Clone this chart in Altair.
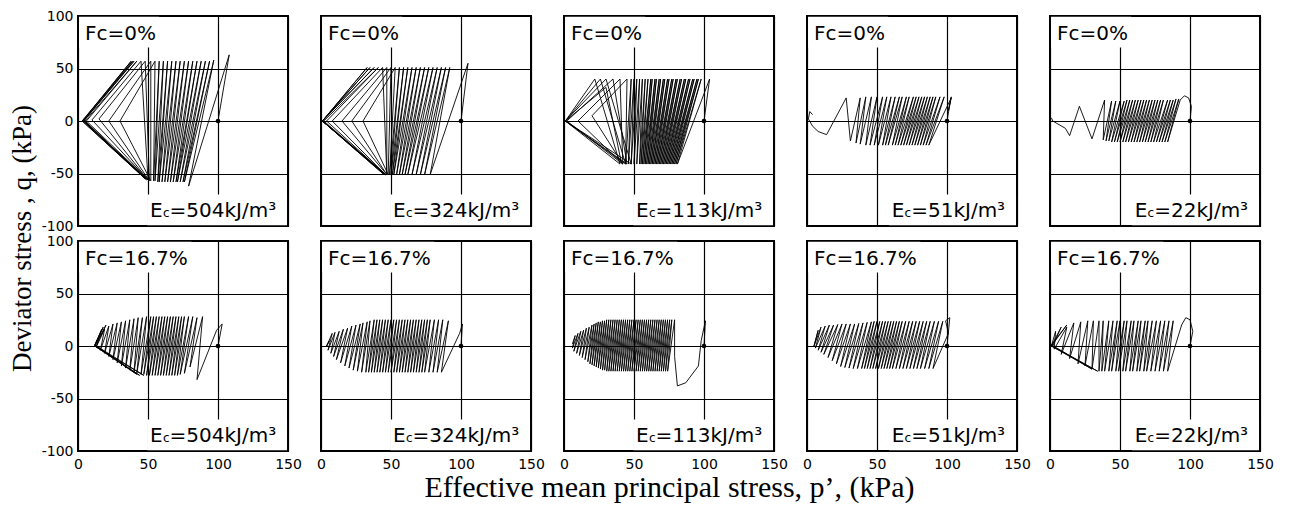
import altair as alt
import pandas as pd

# ---------------- data ----------------
FC_LABELS = ["Fc=0%", "Fc=16.7%"]
EC_VALUES = ["504", "324", "113", "51", "22"]
X_TICKS = [0, 50, 100, 150]
Y_TICKS = [-100, -50, 0, 50, 100]
X_TITLE = "Effective mean principal stress, p\u2019, (kPa)"
Y_TITLE = "Deviator stress , q, (kPa)"

# stress-path vertices [p', q] (turning points)
T1 = [[100,0],[108,63],[79,-62],[97,58],[76,-58],[94,57],[75,-58],[91,57],[73,-58],[88,57],[71,-58],[85,57],[70,-58],[82,57],[68,-58],[79,57],[66,-58],[76,57],[64,-58],[73,57],[62,-58],[70,57],[60,-58],[67,57],[58,-58],[64,57],[57,-58],[61,57],[55,-57],[58,57],[54,-57],[55,57],[30,0],[52,-57],[52,57],[22,0],[51,-57],[48,57],[15,2],[50,-56],[45,57],[10,1],[50,-56],[6,0],[42,57],[5,0],[49,-56],[4,0],[40,57],[4,0],[49,-55],[4,0],[39,57],[3,0],[48,-55],[3,0],[38,57],[4,1],[48,-55]]
T2 = [[100,0],[105,55],[78,-51],[92,51],[74,-51],[89,51],[71,-51],[86,51],[68,-51],[83,51],[65,-51],[80,51],[62,-51],[77,51],[60,-51],[74,51],[58,-51],[71,51],[56,-51],[68,51],[54,-51],[65,51],[52,-51],[62,51],[51,-51],[59,51],[50,-51],[56,51],[49,-51],[53,51],[30,0],[48,-51],[50,51],[22,0],[47,-51],[47,51],[15,0],[47,-51],[44,51],[8,0],[46,-51],[4,0],[41,51],[2,0],[46,-51],[1,0],[38,51],[1,0],[46,-51],[1,0],[35,51],[1,0],[45,-51],[1,0],[33,51],[1,0],[46,-51]]
T3 = [[100,0],[104,40],[81,-41],[98,40],[80,-41],[96,40],[79,-41],[95,40],[78,-41],[93,40],[77,-41],[92,40],[76,-41],[90,40],[75,-41],[89,40],[74,-41],[87,40],[73,-41],[86,40],[72,-41],[84,40],[71,-41],[83,40],[70,-41],[81,40],[69,-41],[80,40],[68,-41],[78,40],[67,-41],[77,40],[66,-41],[75,40],[65,-41],[74,40],[64,-41],[72,40],[63,-41],[71,40],[62,-41],[69,40],[61,-41],[68,40],[60,-41],[66,40],[59,-41],[65,40],[58,-41],[63,40],[57,-41],[62,40],[56,-41],[60,40],[55,-41],[58,40],[54,-41],[56,40],[52,-41],[54,40],[50,-41],[52,40],[48,-41],[50,40],[46,-41],[48,40],[44,-41],[45,40],[20,5],[42,-41],[40,40],[10,0],[42,-41],[2,0],[35,40],[45,-41],[1,0],[30,40],[48,-41],[1,0],[26,40],[44,-41],[1,0],[22,40],[40,-41],[1,0],[30,32],[41,-40]]
T4 = [[100,0],[103,23],[101,10],[103,22],[87,-23],[98,23],[85,-23],[95,23],[83,-23],[92,23],[81,-23],[90,23],[79,-23],[88,23],[77,-23],[86,23],[75,-23],[84,23],[73,-23],[82,23],[71,-23],[80,23],[69,-23],[78,23],[67,-23],[76,23],[65,-23],[73,23],[63,-23],[71,23],[61,-23],[68,23],[58,-23],[66,23],[56,-23],[63,23],[54,-23],[60,23],[51,-23],[57,23],[48,-23],[54,23],[45,-23],[50,23],[42,-23],[46,23],[38,-22],[42,23],[35,-21],[38,22],[31,-19],[28,22],[14,-13],[8,-10],[4,-5],[1,2],[2,9],[4,6]]
T5 = [[100,0],[101,14],[99,22],[96,24],[93,20],[84,-20],[92,21],[82,-20],[90,21],[80,-20],[88,20],[78,-20],[86,20],[76,-20],[84,20],[74,-20],[81,20],[72,-20],[79,20],[70,-20],[77,20],[68,-20],[75,20],[66,-20],[73,20],[64,-20],[71,20],[62,-20],[69,20],[60,-20],[67,20],[58,-20],[65,20],[56,-20],[63,20],[54,-20],[61,20],[52,-20],[59,20],[50,-20],[57,20],[48,-20],[55,20],[46,-20],[53,19],[44,-20],[50,19],[42,-19],[47,19],[40,-19],[44,19],[38,-18],[39,20],[30,-17],[21,14],[14,-14],[11,-7],[2,0],[1,3]]

B1 = [[100,0],[103,21],[99,15],[85,-32],[89,28],[80,-20],[85,27],[76,-26],[82,28],[73,-27],[79,28],[71,-28],[76,28],[69,-28],[74,28],[67,-28],[72,28],[65,-28],[70,28],[63,-28],[68,28],[61,-28],[66,28],[59,-28],[64,28],[57,-28],[62,28],[55,-28],[60,28],[53,-28],[58,28],[51,-28],[56,28],[49,-28],[54,28],[47,-27],[52,28],[45,-27],[49,28],[42,-26],[46,27],[40,-25],[43,27],[37,-23],[40,26],[34,-21],[37,25],[31,-19],[34,24],[28,-16],[31,23],[25,-13],[28,22],[22,-10],[25,21],[19,-7],[22,19],[16,-4],[19,16],[13,-1],[16,12],[12,0],[42,-27],[12,1],[18,18],[12,0],[44,-28],[13,0],[20,20],[12,0],[47,-28],[12,1],[17,16],[12,0]]
B2 = [[100,0],[101,21],[99,12],[86,-25],[91,24],[83,-25],[87,25],[80,-25],[84,25],[77,-25],[81,25],[74,-25],[78,25],[72,-25],[76,25],[70,-25],[74,25],[68,-25],[72,25],[66,-25],[70,25],[64,-25],[68,25],[62,-25],[66,25],[60,-25],[64,25],[58,-25],[62,25],[56,-25],[60,25],[54,-25],[58,25],[52,-25],[56,25],[50,-25],[54,25],[48,-25],[52,25],[46,-25],[50,25],[44,-25],[48,25],[42,-25],[46,25],[40,-25],[44,25],[38,-25],[42,25],[36,-25],[40,25],[34,-25],[38,25],[32,-25],[35,24],[29,-25],[33,23],[26,-24],[30,22],[23,-23],[28,21],[20,-21],[25,20],[17,-19],[22,19],[14,-16],[19,17],[11,-13],[16,16],[9,-10],[13,14],[7,-7],[10,13],[5,-4],[8,12],[4,0],[6,5],[4,0]]
B3 = [[100,0],[101,24],[98,5],[96,-19],[87,-35],[81,-38],[79,-10],[79,25],[74,-24],[77,25],[72.5,-24],[75.5,25],[71,-24],[74,25],[69.5,-24],[72.5,25],[68,-24],[71,25],[66.5,-24],[69.5,25],[65,-24],[68,25],[63.5,-24],[66.5,25],[62,-24],[65,25],[60.5,-24],[63.5,25],[59,-24],[62,25],[57.5,-24],[60.5,25],[56,-24],[59,25],[54.5,-24],[57.5,25],[53,-24],[56,25],[51.5,-24],[54.5,25],[50,-24],[53,25],[48.5,-24],[51.5,25],[47,-24],[50,25],[45.5,-24],[48.5,25],[44,-24],[47,25],[42.5,-24],[45.5,25],[41,-24],[44,25],[39.5,-24],[42.5,25],[38,-24],[41,25],[36.5,-24],[39.5,25],[35,-24],[38,25],[33.5,-24],[36.5,25],[32,-24],[35,25],[30.5,-24],[33.5,25],[29,-23],[32,25],[27.5,-23],[30.5,25],[26,-22],[29,24],[24.5,-21],[27.5,24],[23,-20],[26,23],[21.5,-19],[24.5,23],[20,-18],[23,22],[18.5,-17],[21.5,21],[17,-15],[20,20],[15,-13],[18,18],[13,-11],[16,17],[11,-9],[14,15],[9,-7],[12,14],[7,-5],[10,12],[6,-2],[8,10],[6,2]]
B4 = [[100,0],[102,27],[99,24],[101,12],[90,-21.5],[97,23.5],[87,-21.5],[94,23.5],[84,-21.5],[91,23.5],[81,-21.5],[88,23.5],[78.5,-21.5],[85.5,23.5],[76,-21.5],[83,23.5],[73.5,-21.5],[80.5,23.5],[71,-21.5],[78,23.5],[68.5,-21.5],[75.5,23.5],[66,-21.5],[73,23.5],[63.5,-21.5],[70.5,23.5],[61,-21.5],[68,23.5],[59,-21.5],[66,23.5],[57,-21.5],[64,23.5],[55,-21.5],[62,23.5],[53,-21.5],[60,23.5],[51,-21.5],[58,23.5],[49,-21.5],[56,23.5],[47,-21.5],[54,23.5],[45,-21.5],[52,23.5],[43,-21.5],[50,23.5],[41,-21.5],[48,23.5],[39,-21.5],[46,23],[36,-21.5],[43,22.5],[33,-21.5],[40,22],[30,-21],[37,21.5],[27,-20.5],[34,21],[24,-19.5],[31,21],[21,-17],[28,21],[18,-14],[25,21],[15,-11],[22,20.5],[12,-8],[19,20],[10,-6],[16,20],[8,-4],[13,19],[6,-2],[10,18],[5,0],[8,15],[5,0]]
B5 = [[100,0],[102,14],[100,25],[97,27],[94,20],[84,-24],[88,24],[81,-24],[85,24],[78,-24],[82,24],[75,-24],[79,24],[72,-24],[76,24],[69,-24],[73,24],[67,-24],[70,24],[64,-24],[68,24],[62,-24],[65,24],[59,-24],[63,24],[57,-24],[60,24],[54,-24],[58,24],[52,-24],[55,24],[49,-24],[53,24],[47,-24],[50,24],[44,-24],[48,24],[42,-24],[45,24],[39,-24],[42,24],[37,-24],[38,24],[35,-24],[35,24],[30,-22],[31,24],[25,-19],[27,24],[20,-17],[22,23],[14,-12],[17,22],[8,-8],[12,18],[3,-3],[4,14],[1,0],[34,-24],[2,0],[8,18],[1,0],[30,-22],[1,1],[12,20],[1,0]]

PATHS = [[T1, T2, T3, T4, T5], [B1, B2, B3, B4, B5]]

# ---------------- layout / style ----------------
FONT = "DejaVu Sans"
SERIF = "Liberation Serif"
W, H = 210, 210
FC_POS = (5, 77)
EC_Y = -91.7
EC_START = {"504": 51.5, "324": 51.5, "113": 51.5, "51": 60.5, "22": 60.5}
FC_BOX_RIGHT = {"Fc=0%": 58, "Fc=16.7%": 81}


def panel(r, c):
    path = PATHS[r][c]
    fc_label = FC_LABELS[r]
    ec = EC_VALUES[c]
    df = pd.DataFrame({
        "p": [v[0] for v in path],
        "q": [v[1] for v in path],
        "i": list(range(len(path))),
    })
    xax = alt.Axis(values=X_TICKS, grid=True, gridColor="black", gridWidth=1.2,
                   gridOpacity=1, ticks=False, tickSize=0, domain=False,
                   labels=(r == 1), labelFlush=False, labelFont=FONT,
                   labelFontSize=14, labelColor="black", labelPadding=6,
                   labelExpr="datum.value",
                   title=(X_TITLE if (r == 1 and c == 2) else None),
                   titleFont=SERIF, titleFontSize=30, titleFontWeight="normal",
                   titleColor="black", titlePadding=1)
    yax = alt.Axis(values=Y_TICKS, grid=True, gridColor="black", gridWidth=1.2,
                   gridOpacity=1, ticks=False, tickSize=0, domain=False,
                   labels=(c == 0), labelFlush=False, labelFont=FONT,
                   labelFontSize=14, labelColor="black", labelPadding=5,
                   labelExpr="datum.value", title=None)
    xs = alt.Scale(domain=[0, 150], nice=False, zero=False)
    ys = alt.Scale(domain=[-100, 100], nice=False, zero=False)
    X = alt.X("p:Q", scale=xs, axis=xax)
    Y = alt.Y("q:Q", scale=ys, axis=yax)

    ec_x = EC_START[ec]
    boxes = pd.DataFrame({
        "p": [0.8, ec_x - 2],
        "p2": [FC_BOX_RIGHT[fc_label], 149.3],
        "q": [70, -99.3],
        "q2": [99.3, -70],
    })
    box = alt.Chart(boxes).mark_rect(color="white").encode(
        x=X, x2="p2:Q", y=Y, y2="q2:Q")
    line = alt.Chart(df).mark_line(color="black", strokeWidth=0.9).encode(
        x=X, y=Y, order="i:Q")
    dot = alt.Chart(df.iloc[[0]]).mark_circle(color="black", size=22, opacity=1).encode(
        x=X, y=Y)
    fc = alt.Chart(pd.DataFrame({"p": [FC_POS[0]], "q": [FC_POS[1]], "t": [fc_label]})).mark_text(
        align="left", baseline="alphabetic", font=FONT, fontSize=20, color="black").encode(
        x=X, y=Y, text="t:N")
    ec_df = pd.DataFrame({"p": [ec_x], "q": [EC_Y], "e": ["E"], "c": ["c"],
                          "rest": ["=" + ec + "kJ/m\u00b3"]})
    ec_e = alt.Chart(ec_df).mark_text(align="left", baseline="alphabetic", font=FONT,
                                      fontSize=20, color="black").encode(x=X, y=Y, text="e:N")
    ec_c = alt.Chart(ec_df).mark_text(align="left", baseline="alphabetic", font=FONT,
                                      fontSize=12, dx=12.8, color="black").encode(x=X, y=Y, text="c:N")
    ec_r = alt.Chart(ec_df).mark_text(align="left", baseline="alphabetic", font=FONT,
                                      fontSize=20, dx=19.5, color="black").encode(x=X, y=Y, text="rest:N")
    return alt.layer(box, line, dot, fc, ec_e, ec_c, ec_r).properties(width=W, height=H)


panels = [panel(r, c) for r in range(2) for c in range(5)]

chart = alt.concat(*panels, columns=5, spacing=alt.RowColnumber(row=15, column=33),
                   bounds="flush").properties(
    title=alt.TitleParams(text=Y_TITLE, orient="left", anchor="middle", font=SERIF,
                          fontSize=27, fontWeight="normal", color="black", offset=3, dx=17),
    padding={"left": 1, "top": 0, "right": 0, "bottom": 0},
).configure_view(stroke="black", strokeWidth=2)

chart.save("out.html", embed_options={"renderer": "svg", "actions": False})
